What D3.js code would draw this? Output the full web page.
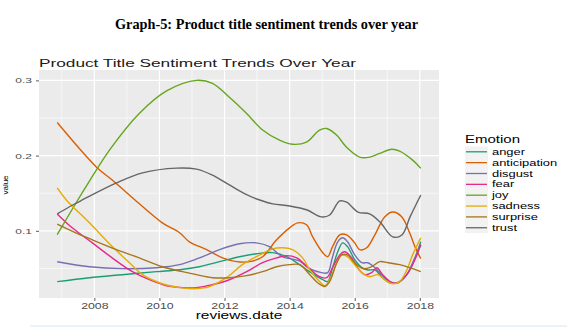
<!DOCTYPE html>
<html><head><meta charset="utf-8">
<script src="https://cdn.jsdelivr.net/npm/d3@7/dist/d3.min.js"></script>
<style>html,body{margin:0;padding:0;background:#fff;}svg{display:block;}</style>
</head><body>
<svg id="c" width="583" height="328"></svg>
<script>
// ---- data ----
const emotions = ["anger","anticipation","disgust","fear","joy","sadness","surprise","trust"];
const palette = ["#1B9E77","#D95F02","#7570B3","#E7298A","#66A61E","#E6AB02","#A6761D","#666666"];
const xTicks = [2008,2010,2012,2014,2016,2018];
const yTicks = [0.1,0.2,0.3];

const anger = [[2006.86,0.0324],[2007.85,0.0377],[2008.86,0.0417],[2009.91,0.0457],[2010.62,0.0483],[2011.23,0.0523],[2011.85,0.059],[2012.46,0.0656],[2012.98,0.0695],[2013.48,0.071],[2013.91,0.0656],[2014.31,0.055],[2014.6,0.046],[2015.02,0.035],[2015.17,0.0325],[2015.32,0.051],[2015.48,0.0722],[2015.63,0.084],[2015.78,0.079],[2016.0,0.0616],[2016.22,0.051],[2016.4,0.048],[2016.62,0.048],[2016.83,0.039],[2017.08,0.031],[2017.32,0.031],[2017.6,0.0417],[2017.85,0.064],[2018.03,0.0854]];
const anticipation = [[2006.86,0.244],[2008.06,0.185],[2008.55,0.1675],[2009.25,0.141],[2010.09,0.1106],[2010.62,0.0974],[2010.92,0.0854],[2011.45,0.075],[2011.94,0.064],[2012.37,0.059],[2012.77,0.059],[2013.17,0.0656],[2013.6,0.088],[2014.0,0.104],[2014.25,0.1106],[2014.52,0.108],[2014.71,0.092],[2015.02,0.0709],[2015.17,0.0656],[2015.32,0.079],[2015.54,0.0947],[2015.75,0.0947],[2016.0,0.084],[2016.15,0.075],[2016.37,0.0775],[2016.62,0.0947],[2016.92,0.1185],[2017.17,0.125],[2017.45,0.1185],[2017.69,0.097],[2017.85,0.079],[2018.03,0.063]];
const disgust = [[2006.86,0.0589],[2007.85,0.0523],[2008.86,0.0497],[2009.91,0.051],[2010.62,0.055],[2011.23,0.064],[2011.85,0.075],[2012.46,0.0828],[2012.98,0.084],[2013.38,0.079],[2013.78,0.0656],[2014.3,0.06],[2014.6,0.05],[2014.98,0.0444],[2015.17,0.0444],[2015.32,0.0656],[2015.48,0.0854],[2015.63,0.0907],[2015.78,0.0854],[2016.0,0.068],[2016.22,0.0576],[2016.4,0.0576],[2016.62,0.051],[2016.83,0.0417],[2017.08,0.0325],[2017.32,0.031],[2017.6,0.0417],[2017.85,0.064],[2018.03,0.0815]];
const fear = [[2006.86,0.1225],[2007.32,0.104],[2007.94,0.084],[2008.55,0.064],[2009.17,0.0457],[2009.69,0.035],[2010.22,0.027],[2010.71,0.0245],[2011.14,0.0245],[2011.63,0.0285],[2012.15,0.035],[2012.68,0.0457],[2013.17,0.0576],[2013.6,0.064],[2013.91,0.067],[2014.22,0.064],[2014.55,0.052],[2014.92,0.039],[2015.14,0.0377],[2015.32,0.051],[2015.54,0.068],[2015.69,0.0722],[2015.91,0.064],[2016.09,0.051],[2016.31,0.0417],[2016.52,0.0444],[2016.68,0.051],[2016.86,0.0417],[2017.14,0.031],[2017.32,0.031],[2017.6,0.0417],[2017.85,0.0616],[2018.03,0.0815]];
const joy = [[2006.86,0.095],[2007.45,0.138],[2007.85,0.166],[2008.46,0.207],[2009.38,0.256],[2010.22,0.286],[2011.14,0.300],[2011.63,0.296],[2012.15,0.2775],[2012.68,0.256],[2013.17,0.234],[2013.69,0.2205],[2014.09,0.215],[2014.52,0.218],[2014.92,0.234],[2015.14,0.236],[2015.45,0.227],[2015.75,0.211],[2016.15,0.198],[2016.46,0.198],[2016.77,0.203],[2017.14,0.2085],[2017.38,0.206],[2017.78,0.194],[2018.03,0.183]];
const sadness = [[2006.86,0.157],[2007.14,0.141],[2007.85,0.1106],[2008.55,0.079],[2009.08,0.0576],[2009.48,0.0417],[2010.0,0.031],[2010.62,0.0245],[2011.02,0.023],[2011.54,0.026],[2012.06,0.0377],[2012.55,0.055],[2013.08,0.068],[2013.48,0.076],[2013.78,0.0775],[2014.09,0.075],[2014.4,0.064],[2014.62,0.048],[2014.92,0.0325],[2015.08,0.027],[2015.23,0.035],[2015.45,0.0576],[2015.6,0.068],[2015.78,0.0656],[2016.0,0.055],[2016.22,0.0444],[2016.46,0.039],[2016.71,0.0417],[2016.92,0.035],[2017.14,0.0298],[2017.38,0.0325],[2017.6,0.048],[2017.78,0.068],[2018.03,0.0907]];
const surprise = [[2006.86,0.109],[2007.45,0.097],[2007.94,0.088],[2008.68,0.075],[2009.38,0.064],[2010.09,0.0523],[2010.71,0.0457],[2011.14,0.0417],[2011.63,0.0377],[2012.15,0.0377],[2012.68,0.0404],[2013.17,0.0457],[2013.6,0.0523],[2014.0,0.055],[2014.31,0.055],[2014.62,0.0417],[2014.86,0.031],[2015.08,0.026],[2015.23,0.0325],[2015.45,0.0576],[2015.6,0.068],[2015.78,0.068],[2016.0,0.0576],[2016.25,0.0497],[2016.52,0.0523],[2016.77,0.059],[2017.02,0.0576],[2017.38,0.055],[2017.69,0.051],[2018.03,0.0457]];
const trust = [[2006.86,0.1225],[2007.32,0.134],[2007.63,0.141],[2008.68,0.1636],[2009.48,0.177],[2010.52,0.1834],[2011.14,0.182],[2011.63,0.174],[2012.15,0.161],[2012.68,0.148],[2013.08,0.141],[2013.48,0.1358],[2014.0,0.133],[2014.52,0.128],[2014.98,0.1185],[2015.23,0.121],[2015.54,0.1397],[2015.75,0.138],[2016.1,0.125],[2016.46,0.1225],[2016.77,0.112],[2017.17,0.092],[2017.45,0.0945],[2017.7,0.1185],[2018.03,0.1477]];

const seriesData = [anger, anticipation, disgust, fear, joy, sadness, surprise, trust];

// ---- layout ----
const svg = d3.select("#c");
const P = {l:39, r:439, t:70, b:298};
const SX = 1.5; // horizontal text stretch of the reference
const x = d3.scaleLinear().domain([2006.3, 2018.59]).range([P.l, P.r]);
const y = d3.scaleLinear().domain([0.0107, 0.3138]).range([P.b, P.t]);
const sans = "'Liberation Sans', Arial, sans-serif";

function stretch(sel){
  sel.each(function(){
    const t = d3.select(this);
    const tx = +t.attr("x") || 0, ty = +t.attr("y") || 0;
    t.attr("x",0).attr("y",0).attr("transform",`translate(${tx},${ty}) scale(${SX},1)`);
  });
  return sel;
}

// top heading
svg.append("text").attr("x",266.5).attr("y",29).attr("text-anchor","middle")
  .attr("font-family","'Liberation Serif','Times New Roman',serif").attr("font-weight","bold")
  .attr("font-size",15.5).attr("textLength",303).attr("lengthAdjust","spacingAndGlyphs")
  .attr("fill","#000").text("Graph-5: Product title sentiment trends over year");

// panel
svg.append("rect").attr("x",P.l).attr("y",P.t).attr("width",P.r-P.l).attr("height",P.b-P.t).attr("fill","#EBEBEB");
const grid = svg.append("g");
const xMinor = [2007,2009,2011,2013,2015,2017];
const yMinor = [0.05,0.15,0.25];
grid.selectAll(".xm").data(xMinor).join("line").attr("x1",d=>x(d)).attr("x2",d=>x(d)).attr("y1",P.t).attr("y2",P.b).attr("stroke","#fff").attr("stroke-width",0.6);
grid.selectAll(".ym").data(yMinor).join("line").attr("y1",d=>y(d)).attr("y2",d=>y(d)).attr("x1",P.l).attr("x2",P.r).attr("stroke","#fff").attr("stroke-width",0.6);
grid.selectAll(".xM").data(xTicks).join("line").attr("x1",d=>x(d)).attr("x2",d=>x(d)).attr("y1",P.t).attr("y2",P.b).attr("stroke","#fff").attr("stroke-width",1.2);
grid.selectAll(".yM").data(yTicks).join("line").attr("y1",d=>y(d)).attr("y2",d=>y(d)).attr("x1",P.l).attr("x2",P.r).attr("stroke","#fff").attr("stroke-width",1.2);

// lines
const line = d3.line().x(d=>x(d[0])).y(d=>y(d[1])).curve(d3.curveCatmullRom.alpha(0.5));
svg.append("g").selectAll("path").data(seriesData).join("path")
  .attr("d",line).attr("fill","none").attr("stroke",(d,i)=>palette[i]).attr("stroke-width",1.4);

// axes
const xAxis = svg.append("g").attr("transform",`translate(0,${P.b})`)
  .call(d3.axisBottom(x).tickValues(xTicks).tickFormat(d3.format("d")).tickSize(3).tickPadding(2));
const yAxis = svg.append("g").attr("transform",`translate(${P.l},0)`)
  .call(d3.axisLeft(y).tickValues(yTicks).tickFormat(d3.format(".1f")).tickSize(3).tickPadding(4));
[xAxis,yAxis].forEach(a=>{
  a.select(".domain").remove();
  a.selectAll(".tick line").attr("stroke","#333").attr("stroke-width",0.8);
  a.selectAll(".tick text").attr("fill","#4D4D4D").attr("font-family",sans).attr("font-size",8);
});
xAxis.selectAll(".tick text").attr("font-size",8.2);
stretch(xAxis.selectAll(".tick text"));
stretch(yAxis.selectAll(".tick text"));

// titles
stretch(svg.append("text").attr("x",39).attr("y",67).attr("font-family",sans).attr("font-size",11.5)
  .attr("fill","#1a1a1a").text("Product Title Sentiment Trends Over Year"));
stretch(svg.append("text").attr("x",(P.l+P.r)/2).attr("y",319).attr("text-anchor","middle")
  .attr("font-family",sans).attr("font-size",10.3).attr("fill","#000").text("reviews.date"));
svg.append("text").attr("transform",`translate(8,185) rotate(-90)`).attr("text-anchor","middle")
  .attr("font-family",sans).attr("font-size",8).attr("fill","#000").text("value");

// legend
const lg = svg.append("g");
stretch(lg.append("text").attr("x",465).attr("y",143).attr("font-family",sans).attr("font-size",10).attr("fill","#000").text("Emotion"));
const rowH = 10.85, row0 = 151.8;
lg.append("rect").attr("x",465).attr("y",row0-rowH/2).attr("width",23).attr("height",rowH*emotions.length).attr("fill","#F2F2F2");
const items = lg.selectAll(".it").data(emotions).join("g").attr("transform",(d,i)=>`translate(0,${row0+i*rowH})`);
items.append("line").attr("x1",466).attr("x2",487).attr("stroke",(d,i)=>palette[i]).attr("stroke-width",1.3);
stretch(items.append("text").attr("x",492).attr("y",3).attr("font-family",sans).attr("font-size",8.6).attr("fill","#000").text(d=>d));

// faint page rule at bottom
svg.append("line").attr("x1",30).attr("x2",567).attr("y1",326).attr("y2",326).attr("stroke","#D6E8EF").attr("stroke-width",1);
</script>
</body></html>
